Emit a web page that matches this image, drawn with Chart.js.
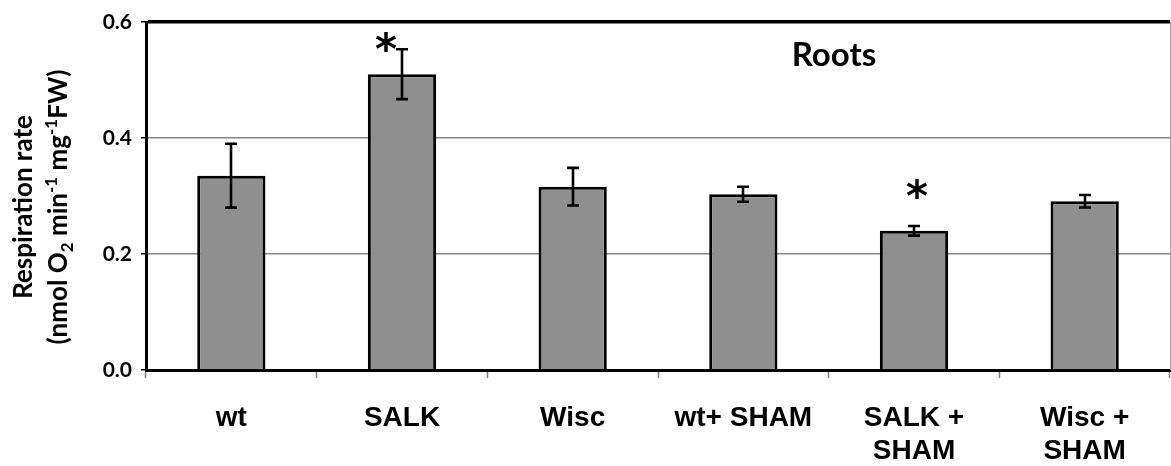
<!DOCTYPE html>
<html>
<head>
<meta charset="utf-8">
<script src="https://cdn.jsdelivr.net/npm/chart.js@4.4.0/dist/chart.umd.min.js"></script>
<style>
  html, body { margin: 0; padding: 0; background: #fff; overflow: hidden; }
  #wrap { width: 1171px; height: 466px; }
</style>
</head>
<body>
<div id="wrap"><canvas id="c" width="1171" height="466"></canvas></div>
<script>
// Respiration rate of roots per line / treatment, mean ± error
const categories = ['wt', 'SALK', 'Wisc', 'wt+ SHAM', ['SALK +', 'SHAM'], ['Wisc +', 'SHAM']];
const respirationRate = [0.335, 0.510, 0.316, 0.303, 0.240, 0.291];
const rateError = [0.055, 0.043, 0.0325, 0.013, 0.0084, 0.0107];
const yTickValues = [0, 0.2, 0.4, 0.6];
const significant = [false, true, false, false, true, false];
const panelTitle = 'Roots';

const LABEL_FONT = 'Lato, "Open Sans", sans-serif';

// error bars drawn from respirationRate ± rateError
const errorBars = {
  id: 'errorBars',
  afterDatasetsDraw(chart) {
    const { ctx } = chart;
    const y = chart.scales.y;
    const meta = chart.getDatasetMeta(0);
    ctx.save();
    ctx.strokeStyle = '#000';
    ctx.lineWidth = 2.6;
    ctx.lineCap = 'butt';
    meta.data.forEach((bar, i) => {
      const v = respirationRate[i], e = rateError[i];
      const top = y.getPixelForValue(v + e);
      const bot = y.getPixelForValue(v - e);
      const x = Math.round(bar.x);
      const half = 6;
      ctx.beginPath();
      ctx.moveTo(x, top); ctx.lineTo(x, bot);
      ctx.moveTo(x - half, top); ctx.lineTo(x + half, top);
      ctx.moveTo(x - half, bot); ctx.lineTo(x + half, bot);
      ctx.stroke();
    });
    ctx.restore();
  }
};

// significance stars, panel title, right frame edge and the rotated axis title
const annotations = {
  id: 'annotations',
  afterDraw(chart) {
    const { ctx, chartArea } = chart;
    const y = chart.scales.y;
    const meta = chart.getDatasetMeta(0);
    ctx.save();

    // right edge of the plot frame
    ctx.strokeStyle = '#a6a6a6';
    ctx.lineWidth = 1;
    ctx.beginPath();
    ctx.moveTo(chartArea.right + 0.5, chartArea.top);
    ctx.lineTo(chartArea.right + 0.5, chartArea.bottom);
    ctx.stroke();

    // stars: first sits beside the error cap, second above it
    const starSpots = { 1: { value: 0.566, dx: -16 }, 4: { value: 0.312, dx: 3 } };
    ctx.fillStyle = '#000';
    ctx.font = 'bold 42px "DejaVu Sans"';
    ctx.textAlign = 'center';
    ctx.textBaseline = 'alphabetic';
    significant.forEach((s, i) => {
      if (!s) return;
      const spot = starSpots[i];
      const m = ctx.measureText('*');
      const cy = y.getPixelForValue(spot.value);
      const base = cy + (m.actualBoundingBoxAscent - m.actualBoundingBoxDescent) / 2;
      ctx.fillText('*', meta.data[i].x + spot.dx, base);
    });

    // panel title
    ctx.font = 'bold 33px ' + LABEL_FONT;
    ctx.fillText(panelTitle, 834, 66);

    // axis title, two lines with sub/superscripts
    const big = 'bold 26px ' + LABEL_FONT;
    const small = 'bold 17px ' + LABEL_FONT;
    const lines = [
      { base: 32, parts: [{ t: 'Respiration rate', f: big, dy: 0 }] },
      { base: 67, parts: [
        { t: '(nmol O', f: big, dy: 0 },
        { t: '2', f: small, dy: 6 },
        { t: ' min', f: big, dy: 0 },
        { t: '-1', f: small, dy: -10 },
        { t: ' mg', f: big, dy: 0 },
        { t: '-1', f: small, dy: -10 },
        { t: 'FW)', f: big, dy: 0 }
      ] }
    ];
    const cy = 207;
    ctx.textAlign = 'left';
    lines.forEach(line => {
      let w = 0;
      line.parts.forEach(p => { ctx.font = p.f; w += ctx.measureText(p.t).width; });
      ctx.save();
      ctx.translate(line.base, cy);
      ctx.rotate(-Math.PI / 2);
      let x = -w / 2;
      line.parts.forEach(p => {
        ctx.font = p.f;
        ctx.fillText(p.t, x, p.dy);
        x += ctx.measureText(p.t).width;
      });
      ctx.restore();
    });
    ctx.restore();
  }
};

const isTop = v => Math.abs(v - yTickValues[yTickValues.length - 1]) < 1e-9;

new Chart(document.getElementById('c'), {
  type: 'bar',
  data: {
    labels: categories,
    datasets: [{
      data: respirationRate,
      backgroundColor: '#8f8f8f',
      borderColor: '#000',
      borderWidth: 3,
      borderSkipped: 'bottom',
      categoryPercentage: 1,
      barPercentage: 0.40
    }]
  },
  options: {
    responsive: false,
    animation: false,
    devicePixelRatio: 1,
    layout: { padding: { top: 22, right: 1, left: 0, bottom: 0 } },
    plugins: { legend: { display: false }, tooltip: { enabled: false }, title: { display: false } },
    scales: {
      x: {
        afterFit(s) { s.height = 96; },
        border: { display: true, color: '#000', width: 3 },
        grid: {
          display: true, drawOnChartArea: false, drawTicks: true,
          tickLength: 8, tickColor: '#808080', tickWidth: 1.5
        },
        ticks: {
          color: '#000',
          padding: 23,
          maxRotation: 0,
          autoSkip: false,
          font: { family: '"Liberation Sans", Arial, sans-serif', weight: 'bold', size: 28, lineHeight: 1.2 }
        }
      },
      y: {
        min: yTickValues[0],
        max: yTickValues[yTickValues.length - 1],
        afterFit(s) { s.width = 146; },
        afterBuildTicks(s) { s.ticks = yTickValues.map(v => ({ value: v })); },
        border: { display: true, color: '#000', width: 3 },
        grid: {
          color: c => (c.tick && isTop(c.tick.value)) ? '#000' : '#868686',
          lineWidth: c => (c.tick && isTop(c.tick.value)) ? 3.5 : 1.5,
          tickLength: 5, tickColor: '#000', tickWidth: 1.5, drawTicks: true
        },
        ticks: {
          color: '#000',
          padding: 9,
          callback: v => Number(v).toFixed(1),
          font: { family: LABEL_FONT, weight: 'bold', size: 21 }
        }
      }
    }
  },
  plugins: [errorBars, annotations]
});
</script>
</body>
</html>
